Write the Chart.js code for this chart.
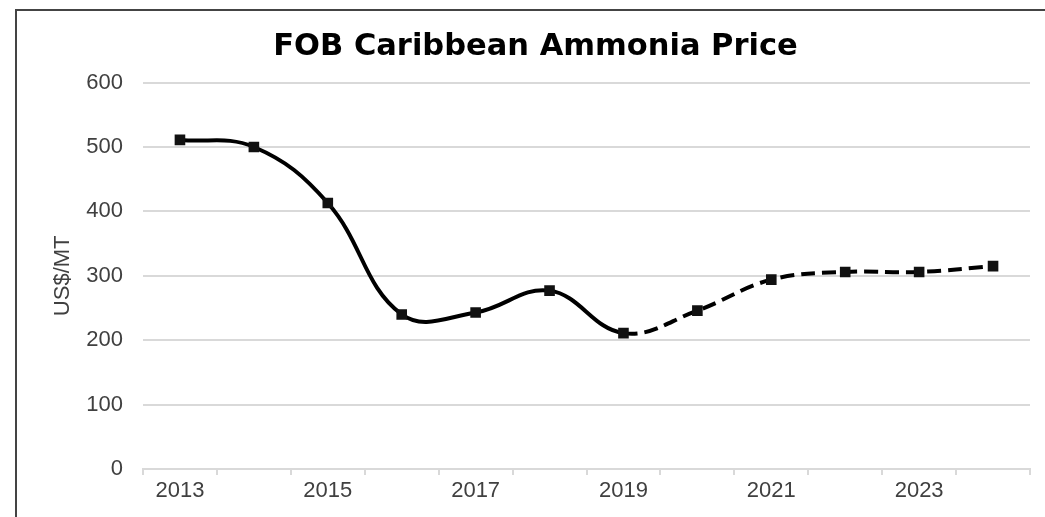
<!DOCTYPE html>
<html>
<head>
<meta charset="utf-8">
<script src="https://cdn.jsdelivr.net/npm/chart.js@4/dist/chart.umd.min.js"></script>
<style>
  html, body { margin: 0; padding: 0; background: #fff; }
  #frame {
    position: absolute; left: 15px; top: 9px;
    width: 1030px; height: 508px;
    border-top: 2px solid #444; border-left: 2px solid #444;
  }
  #wrap { position: relative; width: 1028px; height: 506px; }
</style>
</head>
<body>
<div id="frame"><div id="wrap"><canvas id="ammoniaChart"></canvas></div></div>
<script>
// FOB Caribbean ammonia, US$/MT
var years = ["2013", "2014", "2015", "2016", "2017", "2018", "2019", "2020", "2021", "2022", "2023", "2024"];
var prices = [511, 500, 413, 240, 243, 277, 211, 246, 294, 306, 306, 315];
var forecastFrom = 6; // index of 2019, dashed after this

var tickFont = { family: 'Liberation Sans, Arial', size: 22 };

// title sits a little right of canvas centre in the original
var nudgeTitle = {
    id: 'nudgeTitle',
    afterLayout: function (chart) {
        if (chart.titleBlock) {
            chart.titleBlock.left += 12;
            chart.titleBlock.right += 12;
        }
    }
};

new Chart(document.getElementById("ammoniaChart"), {
    type: 'line',
    data: {
        labels: years,
        datasets: [{
            label: "FOB Caribbean",
            data: prices,
            borderColor: "#000",
            backgroundColor: "#000",
            borderWidth: 4,
            tension: 0.4,
            pointStyle: 'rect',
            pointRadius: 7.5,
            pointBackgroundColor: "#111",
            pointBorderWidth: 0,
            segment: {
                borderDash: function (ctx) {
                    return ctx.p0DataIndex >= forecastFrom ? [14, 7] : undefined;
                }
            }
        }]
    },
    plugins: [nudgeTitle],
    options: {
        responsive: true,
        maintainAspectRatio: false,
        animation: false,
        layout: { padding: { left: 0, right: 15, top: 0, bottom: 0 } },
        plugins: {
            legend: { display: false },
            tooltip: { enabled: false },
            title: {
                display: true,
                text: 'FOB Caribbean Ammonia Price',
                color: '#000',
                font: { family: 'DejaVu Sans', size: 30.5, weight: 'bold' },
                padding: { top: 18, bottom: 17 }
            }
        },
        scales: {
            x: {
                offset: true,
                grid: {
                    offset: true,
                    drawOnChartArea: false,
                    drawTicks: true,
                    tickLength: 6,
                    color: '#d9d9d9',
                    lineWidth: 2
                },
                border: { display: true, color: '#d9d9d9', width: 2 },
                ticks: {
                    autoSkip: false,
                    maxRotation: 0,
                    padding: 3,
                    color: '#404040',
                    font: tickFont,
                    callback: function (val, i) {
                        return i % 2 === 0 ? years[i] : '';
                    }
                },
                afterFit: function (scale) { scale.height = 48; }
            },
            y: {
                min: 0,
                max: 600,
                ticks: {
                    stepSize: 100,
                    padding: 20,
                    color: '#404040',
                    font: tickFont
                },
                grid: { color: '#d9d9d9', lineWidth: 2, drawTicks: false },
                border: { display: false },
                title: {
                    display: true,
                    text: 'US$/MT',
                    color: '#404040',
                    font: tickFont,
                    padding: { top: 33, bottom: 0 }
                },
                afterFit: function (scale) { scale.width = 126; }
            }
        }
    }
});
</script>
</body>
</html>
